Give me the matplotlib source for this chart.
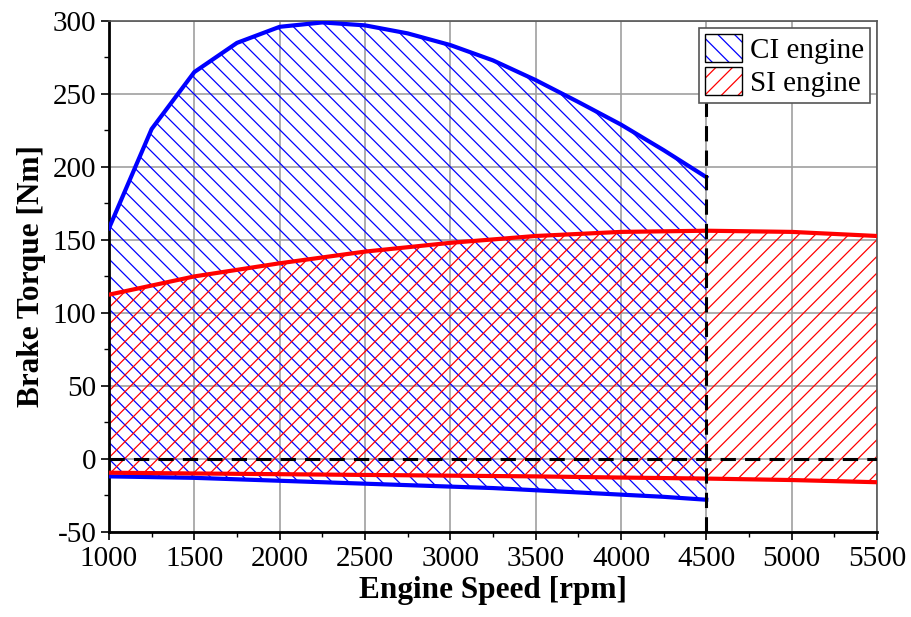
import numpy as np
import matplotlib
matplotlib.use("Agg")
import matplotlib.pyplot as plt
from matplotlib.path import Path
from matplotlib.patches import Patch
from matplotlib.ticker import MultipleLocator

plt.rcParams['font.family'] = ['Liberation Serif', 'DejaVu Serif']
plt.rcParams['axes.unicode_minus'] = False
plt.rcParams['hatch.linewidth'] = 0.9

# slightly sparser hatching than matplotlib's fixed density of 6
_hatch = Path.hatch
Path.hatch = staticmethod(lambda pattern, density=6: _hatch(pattern, 4.8))

# CI engine (diesel) torque envelope, 1000-4500 rpm
ci_speed = [1000, 1250, 1500, 1750, 2000, 2250, 2500, 2750, 3000, 3250,
            3500, 3750, 4000, 4250, 4500]
ci_max = [158, 226, 265, 285, 296, 299, 297, 291.5, 283.5, 273,
          259.5, 244.5, 229, 211.5, 193]
ci_min = [-12, -12.5, -13, -14, -15, -16, -17, -18, -19, -20,
          -21.5, -23, -24.5, -26, -28]

# SI engine (gasoline) torque envelope, 1000-5500 rpm
si_speed = [1000, 1500, 2000, 2500, 3000, 3500, 4000, 4500, 5000, 5500]
si_max = [112.5, 125, 134, 142, 148, 152.7, 155.5, 156.3, 155.5, 152.7]
si_min = [-9.5, -10, -10.5, -11, -11.5, -12, -12.8, -13.5, -14.5, -16]

max_ci_speed = 4500

fig, ax = plt.subplots(figsize=(9.12, 6.17), dpi=100)
fig.subplots_adjust(left=0.1195, right=0.9616, top=0.966, bottom=0.138)

ax.fill_between(ci_speed, ci_min, ci_max, facecolor='none', edgecolor='blue',
                hatch='\\\\\\', linewidth=0, zorder=2)
ax.fill_between(si_speed, si_min, si_max, facecolor='none', edgecolor='red',
                hatch='///', linewidth=0, zorder=2)

ax.plot(ci_speed, ci_max, color='blue', lw=3, zorder=4)
ax.plot(ci_speed, ci_min, color='blue', lw=3, zorder=4)
ax.plot(si_speed, si_max, color='red', lw=3, zorder=5)
ax.plot(si_speed, si_min, color='red', lw=3, zorder=5)

ax.axhline(0, color='black', lw=2.2, ls=(0, (5, 3)), zorder=6)
ax.axvline(max_ci_speed, color='black', lw=2.2, ls=(0, (5, 3)), zorder=6)

ax.set_xlim(1000, 5500)
ax.set_ylim(-50, 300)
ax.xaxis.set_major_locator(MultipleLocator(500))
ax.xaxis.set_minor_locator(MultipleLocator(250))
ax.yaxis.set_major_locator(MultipleLocator(50))
ax.yaxis.set_minor_locator(MultipleLocator(25))
ax.tick_params(which='major', direction='out', length=6, width=1.2,
               labelsize=21)
ax.tick_params(axis='x', which='major', pad=4)
ax.tick_params(axis='y', which='major', pad=3)
ax.tick_params(which='minor', direction='out', length=3.5, width=1)
ax.grid(True, which='major', color='#a0a0a0', lw=1.2, zorder=1)
ax.set_axisbelow(True)
for s in ax.spines.values():
    s.set_linewidth(1.2)
ax.spines['left'].set_linewidth(2)
ax.spines['bottom'].set_linewidth(2)
ax.spines['top'].set_color('#555555')
ax.spines['right'].set_color('#555555')

ax.set_xlabel('Engine Speed [rpm]', fontsize=22.5, fontweight='bold', labelpad=3)
ax.set_ylabel('Brake Torque [Nm]', fontsize=22.5, fontweight='bold', labelpad=5)

ci_handle = (Patch(facecolor='white', edgecolor='blue', hatch='\\\\\\', lw=0),
             Patch(facecolor='none', edgecolor='black', lw=1))
si_handle = (Patch(facecolor='white', edgecolor='red', hatch='///', lw=0),
             Patch(facecolor='none', edgecolor='black', lw=1))
leg = ax.legend([ci_handle, si_handle], ['CI engine', 'SI engine'],
                loc='upper right', fontsize=21, fancybox=False,
                edgecolor='#555555', framealpha=1, borderaxespad=0.25,
                handlelength=1.3, handleheight=1.1, handletextpad=0.25,
                labelspacing=0.1, borderpad=0.2)
leg.get_frame().set_linewidth(1.2)
leg.set_zorder(10)

plt.savefig('out.png', dpi=100)
plt.close()
